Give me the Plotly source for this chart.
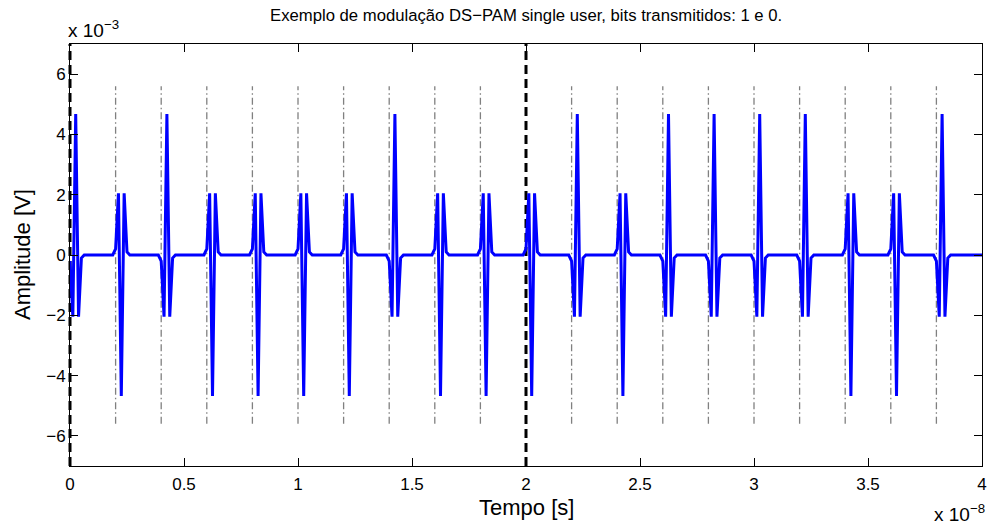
import numpy as np
import plotly.graph_objects as go

# ---------------- data ----------------
title_text = "Exemplo de modulação DS\u2212PAM single user, bits transmitidos: 1 e 0."
x_label = "Tempo [s]"
y_label = "Amplitude [V]"
x_exponent_label = "x 10<sup>\u22128</sup>"
y_exponent_label = "x 10<sup>\u22123</sup>"

chip_period_s = 2e-9          # chip duration
bit_period_s = 2e-8           # bit duration (10 chips)
samples_per_chip = 16         # sampling of the waveform
t_end_s = 4e-8

# polarity of each chip pulse (20 chips, 2 bits)
chip_signs = [1, -1, 1, -1, -1, -1, -1, 1, -1, -1,
              -1, 1, -1, 1, 1, 1, 1, -1, -1, 1]

# sampled pulse shape (volts) for the first samples of each chip
pulse_values_v = [-0.2e-3, -2.05e-3, 4.68e-3, -2.05e-3, -0.1e-3]

# chip boundary markers
chip_marker_halfheight_v = 5.6e-3
bit_boundaries_s = [0.0, 2e-8]

x_tick_vals = [0, 0.5e-8, 1e-8, 1.5e-8, 2e-8, 2.5e-8, 3e-8, 3.5e-8, 4e-8]
x_tick_text = ["0", "0.5", "1", "1.5", "2", "2.5", "3", "3.5", "4"]
y_tick_vals = [-6e-3, -4e-3, -2e-3, 0, 2e-3, 4e-3, 6e-3]
y_tick_text = ["\u22126", "\u22124", "\u22122", "0", "2", "4", "6"]
x_range = [0, 4e-8]
y_range = [-7e-3, 7e-3]

# ---------------- build waveform ----------------
ts = chip_period_s / samples_per_chip
n_chips = len(chip_signs)
n_samples = n_chips * samples_per_chip
t = np.arange(n_samples) * ts
sig = np.zeros(n_samples)
for k, s in enumerate(chip_signs):
    for i, v in enumerate(pulse_values_v):
        sig[k * samples_per_chip + i] = s * v
t = np.append(t, t_end_s)
sig = np.append(sig, 0.0)

# chip boundaries that are not bit boundaries
gx, gy = [], []
for k in range(1, n_chips):
    tk = k * chip_period_s
    if any(abs(tk - b) < 1e-15 for b in bit_boundaries_s):
        continue
    gx += [tk, tk, None]
    gy += [-chip_marker_halfheight_v, chip_marker_halfheight_v, None]

fig = go.Figure()
fig.add_trace(go.Scatter(x=gx, y=gy, mode="lines",
                         line=dict(color="#808080", width=1.3, dash="7px,3px,1.5px,3px"),
                         hoverinfo="skip", showlegend=False))

for b in bit_boundaries_s:
    xd = (b - x_range[0]) / (x_range[1] - x_range[0])
    fig.add_shape(type="line", xref="x domain", yref="y domain",
                  x0=xd, x1=xd, y0=0, y1=1,
                  line=dict(color="black", width=3, dash="9px,5px"), layer="below")

fig.add_trace(go.Scatter(x=t, y=sig, mode="lines",
                         line=dict(color="#0000ff", width=3),
                         hoverinfo="skip", showlegend=False))

font_family = "Liberation Sans, Arial, Helvetica, sans-serif"
ML, MR, MT, MB = 70, 8, 44, 61

fig.update_layout(
    width=990, height=527,
    margin=dict(l=ML, r=MR, t=MT, b=MB),
    paper_bgcolor="white", plot_bgcolor="white",
    font=dict(family=font_family, color="black", size=17),
    showlegend=False,
)
axis_common = dict(showgrid=False, zeroline=False, showline=True, linecolor="black",
                   linewidth=1, mirror="ticks", ticks="inside", ticklen=8,
                   tickcolor="black", tickfont=dict(size=17), automargin=False)
fig.update_xaxes(range=x_range, tickvals=x_tick_vals, ticktext=x_tick_text,
                 ticklabelstandoff=3, **axis_common)
fig.update_yaxes(range=y_range, tickvals=y_tick_vals, ticktext=y_tick_text, **axis_common)

# title
fig.add_annotation(text=title_text, xref="paper", yref="paper", x=0.5, y=1,
                   xanchor="center", yanchor="middle", yshift=29, showarrow=False,
                   font=dict(size=16.7, family=font_family))
# axis titles
fig.add_annotation(text=x_label, xref="paper", yref="paper", x=0.5, y=0,
                   xanchor="center", yanchor="middle", yshift=-41, showarrow=False,
                   font=dict(size=22, family=font_family))
fig.add_annotation(text=y_label, xref="paper", yref="paper", x=0, y=0.5,
                   xanchor="center", yanchor="middle", xshift=-48, textangle=-90,
                   showarrow=False, font=dict(size=22, family=font_family))
# exponent labels
fig.add_annotation(text=y_exponent_label, xref="paper", yref="paper",
                   x=0, y=1, xanchor="left", yanchor="bottom", yshift=1, xshift=-4,
                   showarrow=False, font=dict(size=19, family=font_family))
fig.add_annotation(text=x_exponent_label, xref="paper", yref="paper",
                   x=1, y=0, xanchor="right", yanchor="top", yshift=-33, xshift=5,
                   showarrow=False, font=dict(size=19, family=font_family))

fig.write_html("out.html", config={"displayModeBar": False},
               post_script="document.body.style.margin='0';")
